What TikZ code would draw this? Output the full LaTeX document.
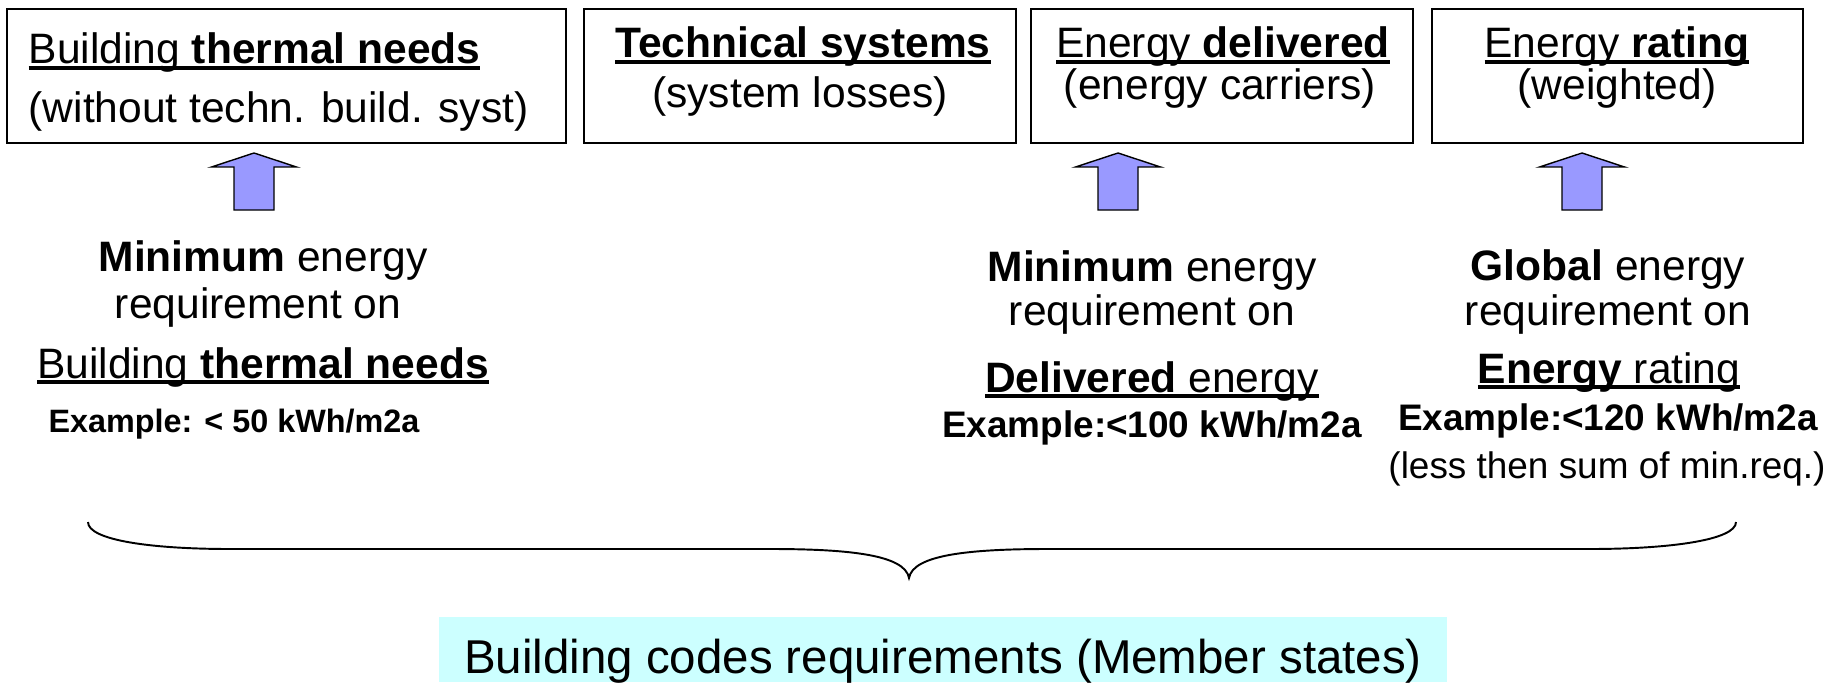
\documentclass[tikz,border=0pt]{standalone}
\usepackage{fontspec}
\setmainfont{Liberation Sans}
\usetikzlibrary{positioning}
\definecolor{arrowfill}{HTML}{9999FF}
\definecolor{codefill}{HTML}{CCFFFF}
\newcommand{\ulin}[1]{\setbox0=\hbox{#1}\rlap{\vrule height -0.6pt depth 1.7pt width \wd0}\box0}

\begin{document}
\begin{tikzpicture}[x=0.01cm, y=-0.01cm,
  panel/.style={draw, line width=0.6pt, minimum height=1.34cm, inner sep=0pt},
  txtline/.style={font=\fontsize{12.1}{14}\selectfont, inner sep=0pt, anchor=base},
  exline/.style={font=\bfseries\fontsize{10.5}{12}\selectfont, inner sep=0pt, anchor=base}]
\useasboundingbox (0,0) rectangle (1837,682);

\node[panel, minimum width=5.59cm] (box1) at (286.5,76) {};
\node[panel, minimum width=4.32cm] (box2) at (800,76) {};
\node[panel, minimum width=3.82cm] (box3) at (1222,76) {};
\node[panel, minimum width=3.71cm] (box4) at (1617.5,76) {};

\node[txtline, anchor=base west] (b1a) at (28,64) {\ulin{Building \textbf{thermal needs}}};
\node[txtline, anchor=base west] (b1b) at (28,123) {(without techn. build. syst)};
\node[txtline] (b2a) at (803,58) {\ulin{\textbf{Technical systems}}};
\node[txtline] (b2b) at (800,107) {(system losses)};
\node[txtline] (b3a) at (1223,58) {\ulin{Energy \textbf{delivered}}};
\node[txtline] (b3b) at (1220,100) {(energy carriers)};
\node[txtline] (b4a) at (1617,58) {\ulin{Energy \textbf{rating}}};
\node[txtline] (b4b) at (1617,100) {(weighted)};

\foreach \c in {254,1118,1582}
  \draw[fill=arrowfill, line width=0.4pt] (\c,153) -- ({\c+42.5},167) -- ({\c+20},167) -- ({\c+20},210)
    -- ({\c-20},210) -- ({\c-20},167) -- ({\c-42.5},167) -- cycle;

\node[txtline] (r1a) at (263,271) {\textbf{Minimum} energy};
\node[txtline] (r1b) at (258,318) {requirement on};
\node[txtline] (r1c) at (263,378) {\ulin{Building \textbf{thermal needs}}};
\node[exline, font=\bfseries\fontsize{9.2}{11}\selectfont] (r1d) at (234,432) {Example: < 50 kWh/m2a};

\node[txtline] (r3a) at (1152,281) {\textbf{Minimum} energy};
\node[txtline] (r3b) at (1152,325) {requirement on};
\node[txtline] (r3c) at (1152,392) {\ulin{\textbf{Delivered} energy}};
\node[exline] (r3d) at (1152,437) {Example:<100 kWh/m2a};

\node[txtline] (r4a) at (1608,280) {\textbf{Global} energy};
\node[txtline] (r4b) at (1608,325) {requirement on};
\node[txtline] (r4c) at (1609,383) {\ulin{\textbf{Energy} rating}};
\node[exline] (r4d) at (1608,430) {Example:<120 kWh/m2a};
\node[exline, font=\fontsize{10.5}{12}\selectfont] (r4e) at (1607,478) {(less then sum of min.req.)};

\draw[line width=0.55pt] (88,522) .. controls (88,540) and (150,549) .. (230,549) -- (770,549)
  .. controls (850,549) and (905,555) .. (909,578) .. controls (913,555) and (968,549) .. (1048,549)
  -- (1590,549) .. controls (1670,549) and (1736,540) .. (1736,522);

\node[fill=codefill, minimum width=10.08cm, minimum height=0.65cm, inner sep=0pt] (codebox) at (943,649.5) {};
\node[txtline, font=\fontsize{13.5}{16}\selectfont] (codes) at (943,673) {Building codes requirements (Member states)};
\end{tikzpicture}
\end{document}
